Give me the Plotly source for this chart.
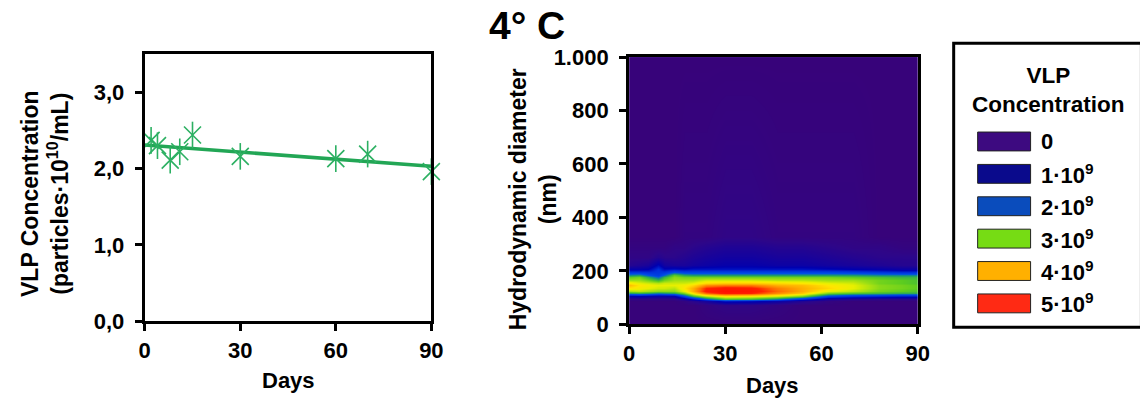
import numpy as np
import plotly.graph_objects as go

# ---------------- data ----------------
# Left panel: VLP concentration (x10^10 particles/mL) vs storage days
days = [2, 4, 8, 11, 15, 30, 60, 70, 90]
vlp_conc = [2.37, 2.30, 2.11, 2.22, 2.44, 2.16, 2.13, 2.19, 1.96]

# Right panel: size distribution map (values in units of 1e9 particles/mL)
hm_days = [0, 3, 6, 9, 11, 14, 17, 20, 24, 30, 38, 46, 54, 62, 70, 78, 85, 90]
hm_diam = [0, 70, 85, 95, 105, 115, 125, 135, 145, 155, 165, 175, 185, 195,
           205, 220, 250, 290, 330, 1000]
# one profile per day (columns of the map), ordered as hm_diam
profiles_by_day = [
    [0, 0, 0, 0.2, 0.9, 2.4, 3.1, 3.6, 3.9, 3.6, 3.1, 2.8, 2.3, 1.6, 0.9, 0.4, 0.2, 0.1, 0, 0],
    [0, 0, 0, 0.2, 1.0, 2.5, 3.2, 3.5, 3.6, 3.4, 3.1, 2.9, 2.4, 1.6, 0.9, 0.5, 0.2, 0.1, 0, 0],
    [0, 0, 0, 0.2, 0.9, 2.4, 3.1, 3.4, 3.5, 3.3, 2.9, 2.5, 2.0, 1.5, 1.0, 0.6, 0.2, 0.1, 0, 0],
    [0, 0, 0, 0.2, 0.8, 2.2, 3.0, 3.3, 3.4, 3.2, 2.6, 2.1, 1.7, 1.6, 1.5, 1.1, 0.4, 0.1, 0, 0],
    [0, 0, 0, 0.2, 0.8, 2.3, 3.0, 3.3, 3.4, 3.3, 2.9, 2.6, 2.1, 1.6, 1.1, 0.7, 0.3, 0.1, 0, 0],
    [0, 0, 0, 0.2, 0.9, 2.4, 3.0, 3.2, 3.4, 3.3, 3.1, 3.0, 2.8, 2.0, 1.2, 0.6, 0.3, 0.2, 0, 0],
    [0, 0, 0.1, 0.6, 1.8, 2.9, 3.4, 3.6, 3.5, 3.3, 3.1, 2.9, 2.5, 1.8, 1.1, 0.6, 0.4, 0.2, 0.1, 0],
    [0, 0, 0.3, 1.2, 2.6, 3.6, 4.0, 4.0, 3.7, 3.4, 3.1, 2.9, 2.4, 1.8, 1.2, 0.7, 0.5, 0.3, 0.1, 0],
    [0, 0.1, 0.6, 2.0, 3.2, 4.4, 4.8, 4.7, 4.2, 3.7, 3.3, 2.9, 2.4, 1.8, 1.2, 0.8, 0.6, 0.4, 0.1, 0],
    [0, 0.2, 1.2, 2.7, 3.6, 4.8, 5.0, 4.9, 4.3, 3.8, 3.3, 2.9, 2.4, 1.8, 1.2, 0.9, 0.7, 0.5, 0.2, 0],
    [0, 0.2, 1.1, 2.6, 3.5, 4.7, 4.9, 4.8, 4.3, 3.8, 3.3, 2.9, 2.4, 1.8, 1.2, 0.9, 0.7, 0.5, 0.2, 0],
    [0, 0.1, 0.8, 2.2, 3.3, 4.2, 4.4, 4.3, 4.0, 3.7, 3.2, 2.9, 2.4, 1.8, 1.2, 0.8, 0.6, 0.4, 0.1, 0],
    [0, 0, 0.4, 1.5, 2.9, 3.8, 4.0, 4.0, 3.9, 3.6, 3.2, 2.9, 2.4, 1.8, 1.2, 0.8, 0.6, 0.4, 0.1, 0],
    [0, 0, 0.1, 0.6, 1.8, 2.9, 3.4, 3.7, 3.6, 3.4, 3.1, 2.9, 2.4, 1.8, 1.1, 0.7, 0.5, 0.3, 0.1, 0],
    [0, 0, 0, 0.4, 1.5, 2.7, 3.2, 3.4, 3.4, 3.3, 3.1, 2.8, 2.4, 1.7, 1.0, 0.6, 0.4, 0.2, 0.1, 0],
    [0, 0, 0, 0.3, 1.4, 2.6, 2.9, 3.0, 3.0, 2.9, 2.9, 2.7, 2.3, 1.6, 0.9, 0.5, 0.3, 0.2, 0, 0],
    [0, 0, 0, 0.3, 1.3, 2.5, 2.8, 2.9, 2.9, 2.8, 2.8, 2.6, 2.3, 1.5, 0.8, 0.4, 0.3, 0.1, 0, 0],
    [0, 0, 0, 0.3, 1.3, 2.5, 2.7, 2.8, 2.8, 2.7, 2.7, 2.6, 2.3, 1.5, 0.8, 0.4, 0.3, 0.1, 0, 0],
]

# Legend of the map
legend_labels = ["0", "1·10<sup>9</sup>", "2·10<sup>9</sup>", "3·10<sup>9</sup>",
                 "4·10<sup>9</sup>", "5·10<sup>9</sup>"]
legend_colors = ["#3d0a80", "#0a0a8c", "#0a4cbc", "#76dc14", "#ffb000", "#ff2a14"]

left_yticks = [0, 1, 2, 3]
left_yticktext = ["0,0", "1,0", "2,0", "3,0"]
right_yticks = [0, 200, 400, 600, 800, 1000]
right_yticktext = ["0", "200", "400", "600", "800", "1.000"]
x_ticks = [0, 30, 60, 90]

# ---------------- figure ----------------
W, H = 1148, 401
FONT = "Liberation Sans"
GREEN_LINE = "#22a655"
GREEN_MARK = "#2cb062"

# the photographed page is slightly rescaled; compensate target pixel positions
SX, OX = 0.9856, 12.1
SY, OY = 0.944, 19.7


def px(x):
    return ((x - OX) / SX) / W


def py(y):
    return 1 - ((y - OY) / SY) / H


fig = go.Figure()

# trend line (least squares fit of the measurements)
slope, intercept = np.polyfit(days, vlp_conc, 1)
fit_x = [0, 90]
fit_y = [intercept + slope * v for v in fit_x]
fig.add_trace(go.Scatter(x=fit_x, y=fit_y, mode="lines",
                         line=dict(color=GREEN_LINE, width=3.5),
                         xaxis="x", yaxis="y", showlegend=False, cliponaxis=False))
# asterisk markers: X + vertical bar
for sym, size in [("x-thin-open", 17), ("line-ns-open", 19)]:
    fig.add_trace(go.Scatter(x=days, y=vlp_conc, mode="markers",
                             marker=dict(symbol=sym, size=size, color=GREEN_MARK,
                                         line=dict(color=GREEN_MARK, width=1.6)),
                             xaxis="x", yaxis="y", showlegend=False, cliponaxis=False))

z = np.array(profiles_by_day).T  # rows = diameters, cols = days
colorscale = [
    [0.00, "#37037a"], [0.05, "#2e0689"], [0.20, "#0000b0"], [0.30, "#0030dc"],
    [0.40, "#0050e6"], [0.48, "#1e9c68"], [0.56, "#5ccc20"], [0.62, "#a0e014"],
    [0.68, "#e8f000"], [0.72, "#ffe600"], [0.80, "#ffae00"], [0.88, "#ff6a00"],
    [0.94, "#ff2000"], [1.00, "#ff1000"],
]
fig.add_trace(go.Heatmap(x=hm_days, y=hm_diam, z=z, zmin=0, zmax=5,
                         colorscale=colorscale, zsmooth="best", showscale=False,
                         xaxis="x2", yaxis="y2", hoverinfo="skip"))

tickfont = dict(family=FONT, size=22, color="black", weight="bold")
axis_common = dict(showline=True, linewidth=3, linecolor="black", mirror=True,
                   ticks="outside", ticklen=7, tickwidth=3, tickcolor="black",
                   showgrid=False, zeroline=False, tickfont=tickfont)

fig.update_layout(
    width=W, height=H, margin=dict(l=0, r=0, t=0, b=0),
    paper_bgcolor="white", plot_bgcolor="white",
    xaxis=dict(domain=[px(143), px(430)], range=[0, 90], tickvals=x_ticks,
               anchor="y", **axis_common),
    yaxis=dict(domain=[py(323), py(54)], range=[0, 3.5], tickvals=left_yticks,
               ticktext=left_yticktext, anchor="x", ticklabelstandoff=6, **axis_common),
    xaxis2=dict(domain=[px(628), px(917)], range=[0, 90], tickvals=x_ticks,
                anchor="y2", **axis_common),
    yaxis2=dict(domain=[py(326), py(57)], range=[0, 1000], tickvals=right_yticks,
                ticktext=right_yticktext, anchor="x2", ticklabelstandoff=6, **axis_common),
)

bold = dict(family=FONT, color="black", weight="bold")
annotations = [
    dict(text="4° C", x=px(526), y=py(25), font=dict(size=39, **bold)),
    dict(text="VLP Concentration<br>(particles·10<sup>10</sup>/mL)", x=px(43), y=py(194),
         textangle=-90, font=dict(size=23, **bold)),
    dict(text="Days", x=px(287), y=py(383), font=dict(size=22, **bold)),
    dict(text="Hydrodynamic diameter<br>(nm)", x=px(532), y=py(200),
         textangle=-90, font=dict(size=23, **bold)),
    dict(text="Days", x=px(772), y=py(388), font=dict(size=22, **bold)),
    dict(text="VLP<br>Concentration", x=px(1048), y=py(90),
         font=dict(size=22.5, **bold)),
]
shapes = [
    dict(type="rect", xref="paper", yref="paper", x0=px(953), x1=px(1141),
         y0=py(329), y1=py(43), line=dict(color="black", width=3)),
]
row_y0, row_step = 142, 32.6
for i, (lab, col) in enumerate(zip(legend_labels, legend_colors)):
    cy = row_y0 + i * row_step
    shapes.append(dict(type="rect", xref="paper", yref="paper",
                       x0=px(977), x1=px(1030), y0=py(cy + 9.5), y1=py(cy - 9.5),
                       fillcolor=col, line=dict(color="#222222", width=1)))
    annotations.append(dict(text=lab, x=px(1038), y=py(cy), xanchor="left",
                            font=dict(size=22, **bold)))

for a in annotations:
    a.setdefault("xref", "paper")
    a.setdefault("yref", "paper")
    a.setdefault("showarrow", False)
    a.setdefault("xanchor", "center")
    a.setdefault("yanchor", "middle")

fig.update_layout(annotations=annotations, shapes=shapes)
fig.write_html("out.html")
